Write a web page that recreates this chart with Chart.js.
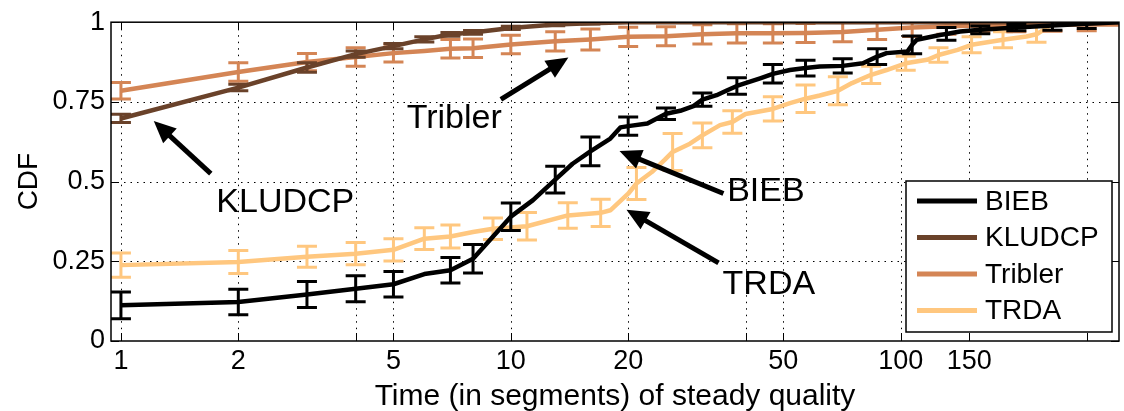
<!DOCTYPE html>
<html>
<head>
<meta charset="utf-8">
<script src="https://cdn.jsdelivr.net/npm/chart.js@4.4.1/dist/chart.umd.min.js"></script>
<style>
  html, body { margin: 0; padding: 0; background: #fff; }
  #wrap { width: 1124px; height: 411px; }
</style>
</head>
<body>
<div id="wrap"><canvas id="cdf" width="1124" height="411"></canvas></div>
<script>
// values (x = segments, y = CDF, err = half height of the error bar, 0 = no bar)
const biebX = [1, 2, 3, 4, 5, 6, 7, 8, 10, 11.4, 13, 14.4, 16, 18, 19.1, 20, 22.4, 25, 27.2, 29.4, 31, 33.7, 35.8, 38, 43.6, 47, 52, 57, 62, 71, 80, 87, 92, 104, 107, 110, 126, 131, 142, 160, 198, 245, 300, 363];
const biebY = [.112, .122, .146, .164, .178, .21, .222, .258, .39, .442, .506, .556, .595, .635, .67, .674, .682, .713, .722, .737, .757, .771, .786, .80, .824, .838, .85, .856, .861, .863, .871, .892, .903, .908, .929, .945, .96, .963, .971, .976, .983, .99, .995, 1];
const biebErr = [.042, .04, .041, .041, .04, 0, .04, .045, .043, 0, .042, 0, .045, 0, 0, .029, 0, .018, 0, 0, .021, 0, 0, .026, 0, .029, 0, .025, 0, .022, 0, .025, 0, 0, .028, 0, 0, .02, 0, .012, .01, .015, .015, 0];

const kludcpX = [1, 2, 3, 4, 5, 6, 7, 8, 10, 13, 16, 20, 363];
const kludcpY = [.698, .795, .858, .9, .925, .946, .962, .968, .982, .993, .997, 1, 1];
const kludcpErr = [.013, .01, .015, .01, .008, .008, .006, .006, .005, .004, .003, 0, 0];

const triblerX = [1, 2, 3, 4, 5, 6, 7, 8, 10, 13, 16, 20, 25, 31, 38, 47, 57, 71, 87, 107, 131, 160, 198, 245, 300, 363];
const triblerY = [.785, .844, .875, .891, .903, .91, .917, .918, .93, .94, .946, .954, .956, .962, .965, .965, .966, .969, .976, .983, .987, .99, .99, .992, .993, .993];
const triblerErr = [.026, .029, .027, .029, .028, 0, .029, .029, .029, .03, .033, .03, .03, .03, .03, .03, .03, .03, .03, .028, .025, .022, .02, .02, .02, 0];

const trdaX = [1, 2, 3, 4, 5, 6, 7, 8, 9, 11, 14, 17, 18, 20, 21, 23, 24.8, 26, 28.8, 31, 34.4, 37, 40, 47, 52, 57, 62, 69, 75, 84, 92, 103, 117, 125, 140, 152, 183, 210, 223, 240, 255, 363];
const trdaY = [.238, .248, .264, .274, .286, .321, .328, .342, .352, .36, .394, .402, .41, .462, .494, .53, .568, .593, .619, .645, .677, .687, .712, .728, .746, .76, .77, .785, .809, .835, .85, .871, .882, .897, .913, .929, .945, .955, .962, .987, 1, 1];
const trdaErr = [.038, .036, .033, .035, .035, .034, .036, 0, .034, .043, .04, .043, 0, 0, .05, 0, 0, .058, 0, .039, 0, .035, 0, .038, 0, .043, 0, .044, 0, .027, 0, .022, 0, .023, 0, .025, .025, 0, .025, 0, 0, 0];

const seriesNames = ['BIEB', 'KLUDCP', 'Tribler', 'TRDA'];
const seriesColors = ['#000000', '#6a422a', '#d48555', '#ffc77f']; // matlab copper(4)

const xTicks = [1, 2, 4, 5, 10, 20, 40, 50, 100, 150, 300];
const xTickLabels = { 1: '1', 2: '2', 5: '5', 10: '10', 20: '20', 50: '50', 100: '100', 150: '150' };
const yTicks = [0, 0.25, 0.5, 0.75, 1];
const yTickLabels = ['0', '0.25', '0.5', '0.75', '1'];

// text arrows, in data coordinates
const notes = [
  { text: 'KLUDCP', at: [2.64, 0.435], from: [1.70, 0.525], to: [1.214, 0.69] },
  { text: 'Tribler', at: [7.16, 0.699], from: [9.43, 0.758], to: [14.05, 0.889] },
  { text: 'BIEB', at: [45.1, 0.47], from: [35.1, 0.4625], to: [19.0, 0.596] },
  { text: 'TRDA', at: [45.9, 0.178], from: [34.1, 0.245], to: [19.8, 0.412] }
];

const FONT = '"Liberation Sans", Arial, Helvetica, sans-serif';
const allX = [biebX, kludcpX, triblerX, trdaX];
const allY = [biebY, kludcpY, triblerY, trdaY];
const allErr = [biebErr, kludcpErr, triblerErr, trdaErr];

const datasets = seriesNames.map((name, i) => ({
  label: name,
  data: allX[i].map((x, j) => ({ x, y: allY[i][j] })),
  borderColor: seriesColors[i],
  backgroundColor: seriesColors[i],
  borderWidth: 4.5,
  borderJoinStyle: 'round',
  pointRadius: 0,
  tension: 0
}));

function seg(ctx, x1, y1, x2, y2) {
  ctx.beginPath(); ctx.moveTo(x1, y1); ctx.lineTo(x2, y2); ctx.stroke();
}

const decor = {
  id: 'decor',
  beforeDatasetsDraw(chart) {
    const { ctx, chartArea: a, scales: { x, y } } = chart;
    ctx.save();
    ctx.strokeStyle = '#000';
    ctx.lineWidth = 1;
    ctx.setLineDash([1.5, 5]);
    xTicks.forEach(v => {
      const px = Math.round(x.getPixelForValue(v)) + 0.5;
      seg(ctx, px, a.top, px, a.bottom);
    });
    yTicks.slice(1, -1).forEach(v => {
      const py = Math.round(y.getPixelForValue(v)) + 0.5;
      seg(ctx, a.left, py, a.right, py);
    });
    ctx.restore();
  },
  afterDatasetDraw(chart, args) {
    const i = args.index;
    const { ctx, chartArea: a, scales: { x, y } } = chart;
    ctx.save();
    ctx.beginPath(); ctx.rect(a.left, a.top, a.right - a.left, a.bottom - a.top); ctx.clip();
    ctx.strokeStyle = seriesColors[i];
    ctx.lineWidth = 3;
    allErr[i].forEach((e, j) => {
      if (!e) return;
      const px = x.getPixelForValue(allX[i][j]);
      const y1 = y.getPixelForValue(allY[i][j] + e);
      const y2 = y.getPixelForValue(allY[i][j] - e);
      seg(ctx, px, y1, px, y2);
      seg(ctx, px - 10, y1, px + 10, y1);
      seg(ctx, px - 10, y2, px + 10, y2);
    });
    ctx.restore();
  },
  afterDraw(chart) {
    const { ctx, chartArea: a, scales: { x, y } } = chart;
    ctx.save();
    // box and inner tick marks
    ctx.strokeStyle = '#000';
    ctx.lineWidth = 1.5;
    ctx.strokeRect(a.left, a.top, a.right - a.left, a.bottom - a.top);
    ctx.lineWidth = 1;
    xTicks.forEach(v => {
      const px = Math.round(x.getPixelForValue(v)) + 0.5;
      seg(ctx, px, a.bottom, px, a.bottom - 8);
      seg(ctx, px, a.top, px, a.top + 8);
    });
    yTicks.forEach(v => {
      const py = Math.round(y.getPixelForValue(v)) + 0.5;
      seg(ctx, a.left, py, a.left + 8, py);
      seg(ctx, a.right, py, a.right - 8, py);
    });

    // arrows with their labels
    ctx.fillStyle = '#000';
    ctx.font = '34px ' + FONT;
    ctx.textAlign = 'center';
    ctx.textBaseline = 'middle';
    notes.forEach(n => {
      const tx = x.getPixelForValue(n.at[0]), ty = y.getPixelForValue(n.at[1]);
      const x0 = x.getPixelForValue(n.from[0]), y0 = y.getPixelForValue(n.from[1]);
      const x1 = x.getPixelForValue(n.to[0]), y1 = y.getPixelForValue(n.to[1]);
      const ang = Math.atan2(y1 - y0, x1 - x0);
      const hl = 22, hw = 10;
      const bx = x1 - hl * Math.cos(ang), by = y1 - hl * Math.sin(ang);
      ctx.lineWidth = 5;
      seg(ctx, x0, y0, bx + 2 * Math.cos(ang), by + 2 * Math.sin(ang));
      ctx.beginPath();
      ctx.moveTo(x1, y1);
      ctx.lineTo(bx + hw * Math.sin(ang), by - hw * Math.cos(ang));
      ctx.lineTo(bx - hw * Math.sin(ang), by + hw * Math.cos(ang));
      ctx.closePath();
      ctx.fill();
      ctx.fillText(n.text, tx, ty);
    });

    // legend box inside the plot
    const bw = 206, bh = 151;
    const bl = a.right - 7 - bw, bt = 181;
    ctx.fillStyle = '#fff';
    ctx.fillRect(bl, bt, bw, bh);
    ctx.strokeStyle = '#000';
    ctx.lineWidth = 1.5;
    ctx.strokeRect(bl, bt, bw, bh);
    ctx.font = '28px ' + FONT;
    ctx.textAlign = 'left';
    seriesNames.forEach((name, i) => {
      const ly = bt + 20 + i * 36.5;
      ctx.strokeStyle = seriesColors[i];
      ctx.lineWidth = 5;
      seg(ctx, bl + 11, ly, bl + 71, ly);
      ctx.fillStyle = '#000';
      ctx.fillText(name, bl + 79, ly + 1);
    });
    ctx.restore();
  }
};

new Chart(document.getElementById('cdf'), {
  type: 'line',
  data: { datasets },
  plugins: [decor],
  options: {
    responsive: false,
    animation: false,
    devicePixelRatio: 1,
    layout: { padding: { left: 0, right: 5, top: 22, bottom: 0 } },
    plugins: { legend: { display: false }, tooltip: { enabled: false } },
    scales: {
      x: {
        type: 'logarithmic',
        min: 0.943, max: 363,
        afterBuildTicks: s => { s.ticks = xTicks.map(v => ({ value: v })); },
        afterFit: s => { s.height = 70; },
        grid: { display: false, drawTicks: false },
        border: { display: false },
        ticks: {
          autoSkip: false, maxRotation: 0, padding: 4,
          color: '#000', font: { family: FONT, size: 27 },
          callback: v => xTickLabels[v] ?? ''
        },
        title: {
          display: true, text: 'Time (in segments) of steady quality',
          color: '#000', font: { family: FONT, size: 30 }, padding: { top: 0, bottom: -4 }
        }
      },
      y: {
        type: 'linear',
        min: 0, max: 1,
        afterBuildTicks: s => { s.ticks = yTicks.map(v => ({ value: v })); },
        afterFit: s => { s.width = 111; },
        grid: { display: false, drawTicks: false },
        border: { display: false },
        ticks: {
          padding: 6, color: '#000', font: { family: FONT, size: 27 },
          callback: (v, i) => yTickLabels[i]
        },
        title: {
          display: true, text: 'CDF',
          color: '#000', font: { family: FONT, size: 28 }, padding: { top: 12, bottom: 0 }
        }
      }
    }
  }
});
</script>
</body>
</html>
